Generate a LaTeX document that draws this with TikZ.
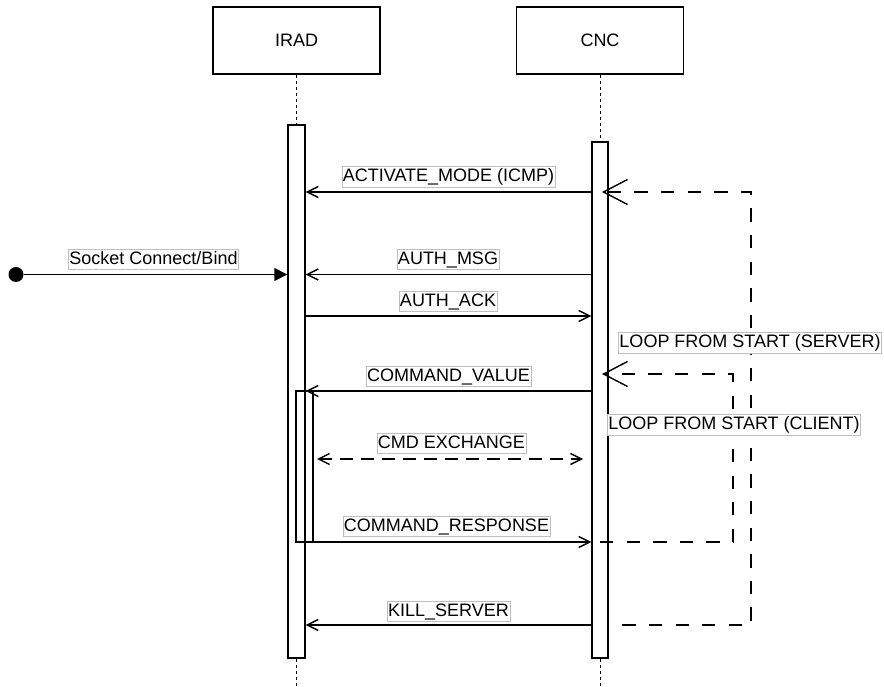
\documentclass[tikz,border=0pt]{standalone}
\usepackage{fontspec}
\setmainfont{Liberation Sans}
\usetikzlibrary{arrows.meta,calc}
\begin{document}
\begin{tikzpicture}[x=1pt,y=-1pt,line width=1.4pt,
  actor/.style={draw,fill=white,minimum width=167pt,minimum height=67pt,inner sep=0pt,font=\fontsize{18}{20}\selectfont},
  bar/.style={draw,fill=white,minimum width=17pt,inner sep=0pt},
  life/.style={line width=1pt,dash pattern=on 3pt off 3pt},
  lbl/.style={draw=black!25,line width=0.6pt,fill=white,inner xsep=1pt,inner ysep=1.5pt,text height=13.5pt,text depth=4pt,font=\fontsize{18}{20}\selectfont},
  msg/.style={-{Straight Barb[length=11pt,width=11pt]}},
  loopd/.style={dash pattern=on 13.3pt off 13.3pt,-{Straight Barb[length=24pt,width=25pt]}}
]
\useasboundingbox (0,0) rectangle (884,687);

% actors
\node[actor] (irad) at (296.5,40.5) {IRAD};
\node[actor] (cnc) at (600,40.5) {CNC};

% activation bars
\node[bar,minimum height=533pt] (irbar) at (296.5,391.5) {};
\node[bar,minimum width=16pt,minimum height=516pt] (cncbar) at (600,400) {};
\node[draw,minimum width=17pt,minimum height=151pt,inner sep=0pt] (nest) at (304.5,466.5) {};

% lifelines
\coordinate (irend) at (296.5,687);
\coordinate (cncend) at (600,687);
\draw[life] (irad.south) -- (irbar.north);
\draw[life] (irbar.south) -- (irend);
\draw[life] (cnc.south) -- (cncbar.north);
\draw[life] (cncbar.south) -- (cncend);

% y levels
\coordinate (yA) at (0,192);
\coordinate (yB) at (0,274.5);
\coordinate (yC) at (0,316);
\coordinate (yD) at (0,391);
\coordinate (yE) at (0,459);
\coordinate (yF) at (0,542);
\coordinate (yG) at (0,625);

% socket
\node[circle,fill,inner sep=0pt,minimum size=15pt] (start) at (16,274.5) {};
\draw[-{Triangle[length=13pt,width=13pt]}] (start) -- (irbar.west |- yB);

% messages
\draw[msg] (cncbar.west |- yA) -- (irbar.east |- yA);
\draw[msg] (cncbar.west |- yB) -- (irbar.east |- yB);
\draw[msg] (irbar.east |- yC) -- (cncbar.west |- yC);
\draw[msg] (cncbar.west |- yD) -- (irbar.east |- yD);
\coordinate (exl) at (317,459);
\coordinate (exr) at (583,459);
\draw[dash pattern=on 13pt off 8pt,{Straight Barb[length=11pt,width=11pt]}-{Straight Barb[length=11pt,width=11pt]}] (exl) -- (exr);
\draw[msg] (nest.east |- yF) -- (cncbar.west |- yF);
\draw[msg] (cncbar.west |- yG) -- (irbar.east |- yG);

% loops
\coordinate (cl1) at (733,542);
\coordinate (cl2) at (733,374);
\coordinate (clend) at (602,374);
\draw[loopd] (cncbar.center |- yF) -- (cl1) -- (cl2) -- (clend);
\coordinate (sl0) at (609,625);
\coordinate (sl1) at (751,625);
\coordinate (sl2) at (751,192);
\coordinate (slend) at (602,192);
\draw[loopd,dash phase=13.3pt] (sl0) -- (sl1) -- (sl2) -- (slend);

% labels
\node[lbl] (lA) at (448.5,177) {ACTIVATE\_MODE (ICMP)};
\node[lbl] (lS) at (153.5,259.5) {Socket Connect/Bind};
\node[lbl] (lB) at (448,259.5) {AUTH\_MSG};
\node[lbl] (lC) at (448,301.5) {AUTH\_ACK};
\node[lbl] (lD) at (448.5,376.5) {COMMAND\_VALUE};
\node[lbl] (lE) at (451.5,443.5) {CMD EXCHANGE};
\node[lbl] (lF) at (446.5,526.5) {COMMAND\_RESPONSE};
\node[lbl] (lG) at (448.5,611.5) {KILL\_SERVER};
\node[lbl] (lSv) at (750,343) {LOOP FROM START (SERVER)};
\node[lbl] (lCl) at (734,425) {LOOP FROM START (CLIENT)};
\end{tikzpicture}
\end{document}
